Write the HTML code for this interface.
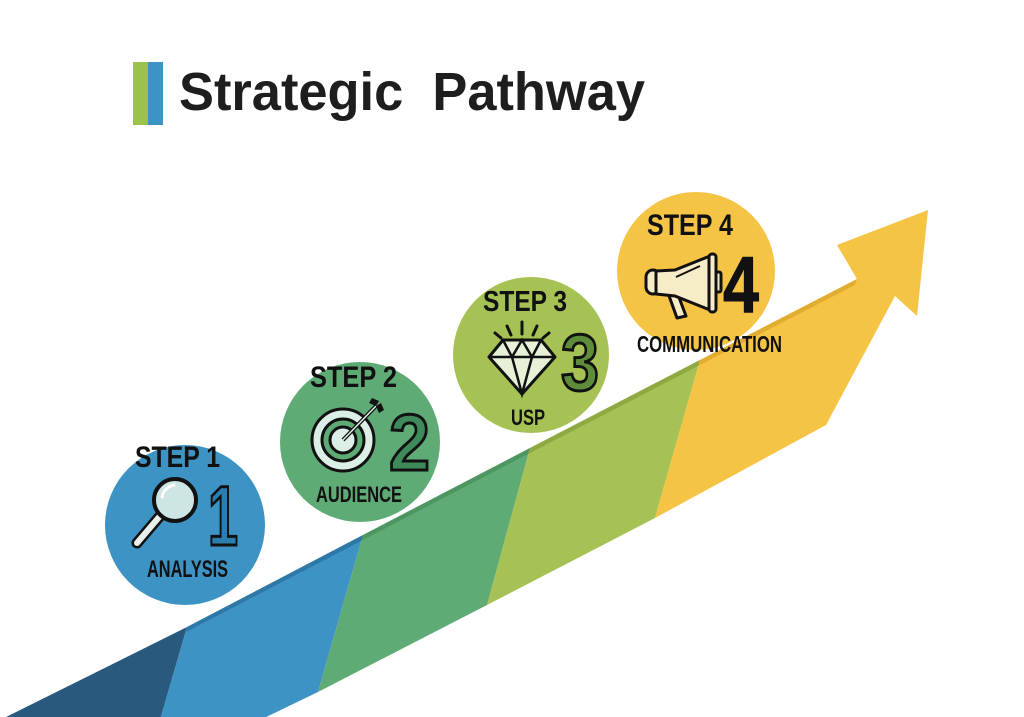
<!DOCTYPE html>
<html><head><meta charset="utf-8"><style>
html,body{margin:0;padding:0;background:#fff;}
svg{display:block}
text{font-family:"Liberation Sans Narrow","Liberation Sans",sans-serif;font-weight:bold;fill:#111}
.num{font-family:"Liberation Sans",sans-serif;font-weight:bold}
</style></head><body>
<svg width="1024" height="717" viewBox="0 0 1024 717" xmlns="http://www.w3.org/2000/svg">
<rect width="1024" height="717" fill="#fff"/>
<rect x="133" y="62" width="15" height="63" fill="#9cc14c"/>
<rect x="148" y="62" width="15" height="63" fill="#3b93c6"/>
<text x="179" y="110" font-size="54" textLength="466" lengthAdjust="spacingAndGlyphs" xml:space="preserve" style="font-family:'Liberation Sans',sans-serif;fill:#1e1e1e">Strategic  Pathway</text>

<polygon points="0,720 187,627 160,720" fill="#295a7e"/>
<polygon points="187,627 363,535 318,692 260,720 160,720" fill="#3d93c4"/>
<polygon points="363,535 530,448 487,605 318,692" fill="#5fab76"/>
<polygon points="530,448 700,360 655,518 487,605" fill="#a6c255"/>
<polygon points="700,360 857,279 837,245 928,210 917,316 895,296 826,425 655,518" fill="#f5c445"/>
<polygon points="187,627 363,535 361,541 186,632" fill="#2e78a8"/>
<polygon points="363,535 530,448 528,454 361,541" fill="#4e9660"/>
<polygon points="530,448 700,360 698,366 528,454" fill="#8ea842"/>
<polygon points="700,360 857,279 855,285 698,366" fill="#e1ad30"/>

<circle cx="185" cy="525" r="80" fill="#3d93c4"/>
<circle cx="360" cy="442" r="80" fill="#5fab76"/>
<circle cx="531" cy="355" r="78" fill="#a6c255"/>
<circle cx="696" cy="271" r="79" fill="#f5c445"/>

<text x="135" y="467" font-size="30" textLength="85" lengthAdjust="spacingAndGlyphs">STEP 1</text>
<line x1="160" y1="516" x2="137" y2="543" stroke="#111" stroke-width="11" stroke-linecap="round"/>
<line x1="160" y1="516" x2="137" y2="543" stroke="#e8f0ee" stroke-width="6" stroke-linecap="round"/>
<circle cx="175" cy="500" r="21" fill="#cde6e4" stroke="#111" stroke-width="4"/>
<path d="M162,498 a14,14 0 0 1 13,-13" stroke="#fff" stroke-width="3" fill="none"/>
<text class="num" x="208" y="545" font-size="84" textLength="30" lengthAdjust="spacingAndGlyphs" style="fill:#2c7eb0;stroke:#111;stroke-width:3">1</text>
<text x="147" y="577" font-size="24" textLength="81" lengthAdjust="spacingAndGlyphs">ANALYSIS</text>

<text x="310" y="387" font-size="30" textLength="87" lengthAdjust="spacingAndGlyphs">STEP 2</text>
<circle cx="343" cy="440" r="31" fill="#dcefe6" stroke="#111" stroke-width="3"/>
<circle cx="343" cy="440" r="21" fill="#5fab76" stroke="#111" stroke-width="3"/>
<circle cx="343" cy="440" r="13" fill="#dcefe6" stroke="#111" stroke-width="3"/>
<line x1="343" y1="440" x2="376" y2="406" stroke="#111" stroke-width="4"/>
<line x1="343" y1="440" x2="376" y2="406" stroke="#dcefe6" stroke-width="1.5"/>
<polygon points="376,406 369,403 372,398 379,401" fill="#111"/>
<polygon points="376,406 379,413 384,410 381,403" fill="#111"/>
<text class="num" x="389" y="470" font-size="80" textLength="41" lengthAdjust="spacingAndGlyphs" style="fill:#3e8a5a;stroke:#111;stroke-width:3">2</text>
<text x="316" y="502" font-size="22" textLength="86" lengthAdjust="spacingAndGlyphs">AUDIENCE</text>

<text x="483" y="311" font-size="29" textLength="84" lengthAdjust="spacingAndGlyphs">STEP 3</text>
<g stroke="#111" stroke-width="3" stroke-linecap="round">
<line x1="522" y1="322" x2="522" y2="334"/><line x1="507" y1="326" x2="511" y2="335"/><line x1="537" y1="326" x2="533" y2="335"/><line x1="495" y1="333" x2="501" y2="338"/><line x1="549" y1="333" x2="543" y2="338"/>
</g>
<polygon points="503,340 541,340 555,357 522,394 489,357" fill="#e6f1d8" stroke="#111" stroke-width="3" stroke-linejoin="round"/>
<path d="M489,357 H555 M503,340 L512,357 L522,340 L532,357 L541,340 M512,357 L522,394 L532,357" stroke="#111" stroke-width="2.5" fill="none"/>
<text class="num" x="561" y="390" font-size="80" textLength="38" lengthAdjust="spacingAndGlyphs" style="fill:#5e8c3a;stroke:#111;stroke-width:3">3</text>
<text x="511" y="425" font-size="22" textLength="34" lengthAdjust="spacingAndGlyphs">USP</text>

<text x="647" y="235" font-size="30" textLength="86" lengthAdjust="spacingAndGlyphs">STEP 4</text>
<g stroke="#111" stroke-width="3" stroke-linejoin="round" fill="#f7ecc8">
<polygon points="668,293 677,292 686,316 677,318"/>
<rect x="646" y="270" width="14" height="24" rx="7"/>
<polygon points="656,271 675,270 710,256 710,310 675,296 656,294"/>
<rect x="709" y="254" width="7" height="58" rx="3"/>
<rect x="716" y="272" width="5" height="20" rx="2"/>
</g>
<line x1="676" y1="277" x2="700" y2="266" stroke="#111" stroke-width="2"/>
<text class="num" x="723" y="312" font-size="80" textLength="36" lengthAdjust="spacingAndGlyphs" style="fill:#111;stroke:#111;stroke-width:1">4</text>
<text x="637" y="352" font-size="23" textLength="145" lengthAdjust="spacingAndGlyphs">COMMUNICATION</text>
</svg>
</body></html>
